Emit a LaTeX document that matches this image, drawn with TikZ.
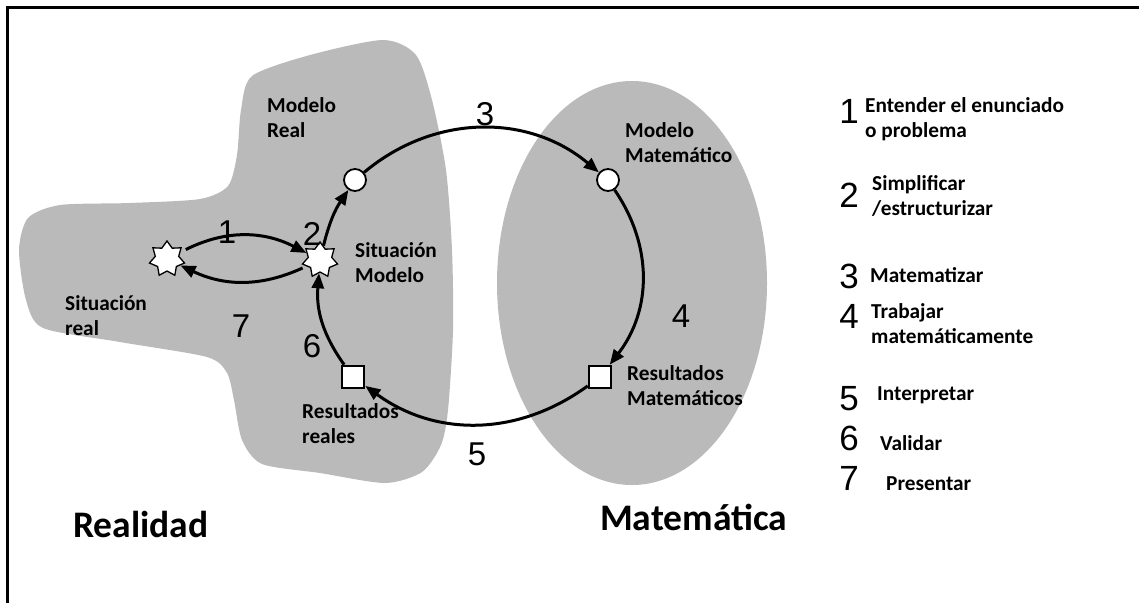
\documentclass[tikz,border=0pt]{standalone}
\usepackage{fontspec}
\setmainfont{Carlito}
\newfontfamily\numfont{Liberation Sans}
\usetikzlibrary{shapes.geometric,arrows.meta}
\definecolor{blobgray}{RGB}{186,186,186}
\begin{document}
\begin{tikzpicture}[x=1pt,y=1pt,
  lbl/.style={font=\bfseries\fontsize{21.3}{24.5}\selectfont, align=left, inner sep=0pt, anchor=base west},
  big/.style={font=\bfseries\fontsize{37.5}{42}\selectfont, inner sep=0pt, anchor=base west},
  num/.style={font=\numfont\fontsize{33}{36}\selectfont, inner sep=0pt, anchor=base},
  lnum/.style={font=\numfont\fontsize{35}{38}\selectfont, inner sep=0pt, anchor=base},
  cyc/.style={line width=3pt, -{Triangle[length=15pt,width=12pt]}},
  starnode/.style={star, star points=7, star point ratio=1.5, minimum size=36pt, inner sep=0pt, draw=black, fill=white, line width=1.3pt},
  circnode/.style={circle, minimum size=22pt, inner sep=0pt, draw=black, fill=white, line width=1.8pt},
  sqnode/.style={rectangle, minimum size=22pt, inner sep=0pt, draw=black, fill=white, line width=2.6pt}]
\useasboundingbox (0,0) rectangle (1139,-603);
% border
\draw[line width=2.6pt] (7.5,-603) -- (7.5,-7.5) -- (1139,-7.5);
% left blob (Realidad)
\fill[blobgray] plot[smooth cycle, tension=0.45] coordinates {
 (252,-76) (310,-55) (383,-40) (416,-55) (432,-100) (446,-170) (452,-250)
 (453,-330) (448,-410) (441,-445) (422,-472) (385,-483) (320,-473) (262,-464)
 (242,-440) (234,-400) (227,-373) (207,-357) (120,-342) (43,-328) (26,-300)
 (19,-250) (28,-218) (60,-205) (130,-203) (200,-199) (228,-186) (237,-155) (241,-110)};
% right ellipse (Matematica)
\fill[blobgray] (632,-283) ellipse [x radius=135, y radius=202];
% nodes
\node[starnode] (sr) at (167,-259) {};
\node[starnode] (sm) at (320,-260) {};
\node[circnode] (mr) at (355,-180) {};
\node[circnode] (mm) at (608,-180) {};
\node[sqnode] (rm) at (600,-377) {};
\node[sqnode] (rr) at (353,-377) {};
% connectors
\draw[cyc] (mr) to[bend left=40] (mm);
\draw[cyc] (mm) to[bend left=36] (rm);
\draw[cyc] (rm) to[bend left=36] (rr);
\draw[cyc] (rr) to[bend left=20] (sm);
\draw[cyc] (sm) to[bend left=10] (mr);
\draw[cyc, shorten <=6pt] (sr) to[bend left=27] (sm);
\draw[cyc, shorten <=4pt] (sm) to[bend left=25] (sr);
% diagram numbers
\node[num] (n1) at (227,-243) {1};
\node[num] (n2) at (312,-245) {2};
\node[num] (n3) at (485,-125) {3};
\node[num] (n4) at (681,-327) {4};
\node[num] (n5) at (477,-465) {5};
\node[num] (n6) at (312,-357) {6};
\node[num] (n7) at (241,-337) {7};
% labels (base anchor = baseline of the last line)
\node[lbl] (tmr) at (267,-137) {Modelo\\Real};
\node[lbl] (tsm) at (355,-282) {Situación\\Modelo};
\node[lbl] (tsr) at (65,-335) {Situación\\real};
\node[lbl] (trr) at (302,-443) {Resultados\\reales};
\node[lbl] (tmm) at (625,-162) {Modelo\\Matemático};
\node[lbl] (trm) at (627,-405) {Resultados\\Matemáticos};
\node[big] (treal) at (73,-537) {Realidad};
\node[big] (tmat) at (600,-530) {Matemática};
% legend
\node[lnum] (l1) at (849,-123) {1};
\node[lnum] (l2) at (849,-207) {2};
\node[lnum] (l3) at (849,-288) {3};
\node[lnum] (l4) at (849,-328) {4};
\node[lnum] (l5) at (849,-410) {5};
\node[lnum] (l6) at (849,-450) {6};
\node[lnum] (l7) at (849,-490) {7};
\node[lbl] (e1) at (865,-137) {Entender el enunciado\\o problema};
\node[lbl] (e2) at (872,-215) {Simplificar\\/estructurizar};
\node[lbl] (e3) at (870,-282) {Matematizar};
\node[lbl] (e4) at (871,-343) {Trabajar\\matemáticamente};
\node[lbl] (e5) at (877,-400) {Interpretar};
\node[lbl] (e6) at (880,-450) {Validar};
\node[lbl] (e7) at (886,-490) {Presentar};
\end{tikzpicture}
\end{document}
